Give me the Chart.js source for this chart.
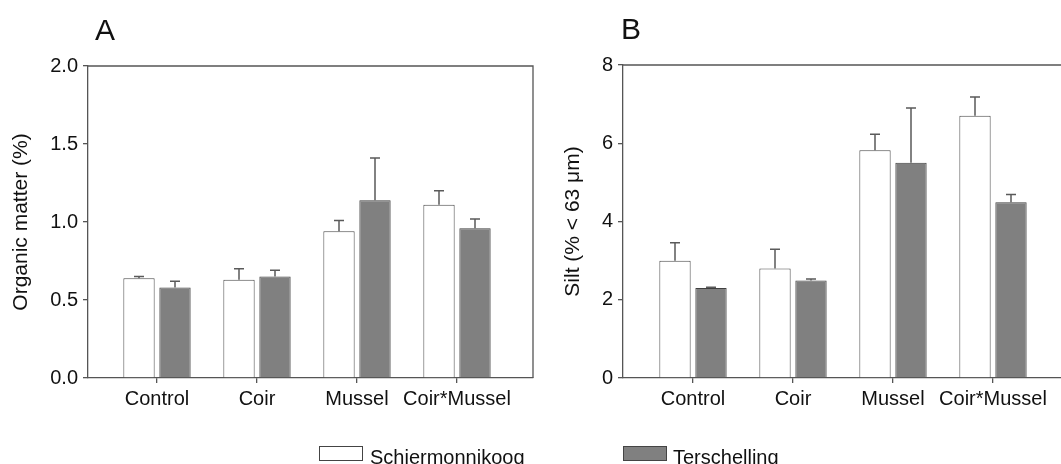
<!DOCTYPE html>
<html><head><meta charset="utf-8">
<script src="https://cdn.jsdelivr.net/npm/chart.js@4/dist/chart.umd.min.js"></script>
<style>
html,body{margin:0;padding:0;background:#fff;width:1061px;height:464px;overflow:hidden;position:relative;font-family:"Liberation Sans",Arial,sans-serif;color:#111;}
canvas{position:absolute;top:0;}
.ptitle{position:absolute;font-size:30px;line-height:30px;}
.leg{position:absolute;font-size:20px;line-height:20px;white-space:nowrap;}
.box{position:absolute;width:42px;height:13px;border:1px solid #444;}
</style></head>
<body>
<canvas id="ca" width="545" height="464" style="left:0px"></canvas>
<canvas id="cb" width="545" height="464" style="left:530px"></canvas>
<div class="ptitle" style="left:95px;top:15px">A</div>
<div class="ptitle" style="left:621px;top:14px">B</div>
<div class="box" style="left:319px;top:446px;background:#fff"></div>
<div class="leg" style="left:370px;top:447px">Schiermonnikoog</div>
<div class="box" style="left:623px;top:446px;background:#808080"></div>
<div class="leg" style="left:673px;top:447px">Terschelling</div>
<script>
const categories = ['Control', 'Coir', 'Mussel', 'Coir*Mussel'];
const seriesNames = ['Schiermonnikoog', 'Terschelling'];
const omSchier = [0.64, 0.63, 0.94, 1.11];
const omSchierErr = [0.01, 0.07, 0.07, 0.09];
const omTersch = [0.58, 0.65, 1.14, 0.96];
const omTerschErr = [0.04, 0.04, 0.27, 0.06];
const siltSchier = [3.00, 2.80, 5.82, 6.70];
const siltSchierErr = [0.46, 0.49, 0.41, 0.48];
const siltTersch = [2.30, 2.49, 5.50, 4.49];
const siltTerschErr = [0.02, 0.04, 1.40, 0.20];
const omTicks = [0, 0.5, 1.0, 1.5, 2.0];
const siltTicks = [0, 2, 4, 6, 8];

Chart.defaults.font.family = '"Liberation Sans", Arial, sans-serif';
Chart.defaults.color = '#111';

const errorBars = {
  id: 'errorBars',
  afterDatasetsDraw(chart) {
    const ctx = chart.ctx, ys = chart.scales.y;
    chart.data.datasets.forEach((ds, i) => {
      const meta = chart.getDatasetMeta(i);
      meta.data.forEach((el, j) => {
        const top = ys.getPixelForValue(ds.data[j].y + ds.errors[j]);
        ctx.save();
        ctx.strokeStyle = '#5a5a5a';
        ctx.lineWidth = 1.5;
        ctx.beginPath();
        ctx.moveTo(el.x, el.y);
        ctx.lineTo(el.x, top);
        ctx.moveTo(el.x - 5, top);
        ctx.lineTo(el.x + 5, top);
        ctx.stroke();
        ctx.restore();
      });
    });
  }
};
const frame = {
  id: 'frame',
  afterDraw(chart) {
    const a = chart.chartArea, ctx = chart.ctx;
    ctx.save();
    ctx.strokeStyle = '#555';
    ctx.lineWidth = 1.3;
    ctx.beginPath();
    ctx.moveTo(a.left, a.top);
    ctx.lineTo(a.right, a.top);
    ctx.lineTo(a.right, a.bottom);
    ctx.stroke();
    ctx.restore();
  }
};

function build(id, s1, e1, s2, e2, yTicks, yTitle, yDec, yAxisW, titlePad, padRight, xmin, xmax, padTop) {
  const pts = arr => arr.map((v, i) => ({x: i + 1, y: v}));
  new Chart(document.getElementById(id), {
    type: 'bar',
    data: {
      datasets: [
        {label: seriesNames[0], data: pts(s1), errors: e1, backgroundColor: '#ffffff', borderColor: '#4a4a4a', borderWidth: 1},
        {label: seriesNames[1], data: pts(s2), errors: e2, backgroundColor: '#808080', borderColor: '#404040', borderWidth: 1}
      ]
    },
    options: {
      responsive: false, animation: false, devicePixelRatio: 1,
      layout: {padding: {top: padTop, right: padRight, left: 0, bottom: 0}},
      categoryPercentage: 0.72, barPercentage: 0.87,
      plugins: {legend: {display: false}, tooltip: {enabled: false}},
      scales: {
        x: {
          type: 'linear', min: xmin, max: xmax, offset: false,
          afterBuildTicks: ax => { ax.ticks = categories.map((c, i) => ({value: i + 1})); },
          afterFit: ax => { ax.height = 86; },
          ticks: {callback: (v) => categories[Math.round(v) - 1], font: {size: 20}, color: '#111', padding: 4, maxRotation: 0, autoSkip: false},
          grid: {offset: false, drawOnChartArea: false, drawTicks: true, tickLength: 5, color: '#555', lineWidth: 1.3},
          border: {display: true, color: '#555', width: 1.3}
        },
        y: {
          min: yTicks[0], max: yTicks[yTicks.length - 1],
          afterBuildTicks: ax => { ax.ticks = yTicks.map(v => ({value: v})); },
          afterFit: ax => { ax.width = yAxisW; },
          ticks: {callback: v => v.toFixed(yDec), font: {size: 20}, color: '#111', padding: 5},
          grid: {drawOnChartArea: false, drawTicks: true, tickLength: 5, color: '#555', lineWidth: 1.3},
          border: {display: true, color: '#555', width: 1.3},
          title: {display: true, text: yTitle, font: {size: 21}, color: '#111', padding: {top: titlePad, bottom: 0}}
        }
      }
    },
    plugins: [errorBars, frame]
  });
}
build('ca', omSchier, omSchierErr, omTersch, omTerschErr, omTicks, 'Organic matter (%)', 1, 88, 9, 12, 0.31, 4.76, 66);
build('cb', siltSchier, siltSchierErr, siltTersch, siltTerschErr, siltTicks, 'Silt (% < 63 μm)', 0, 93, 31, 7, 0.30, 4.75, 65);
</script>
</body></html>
